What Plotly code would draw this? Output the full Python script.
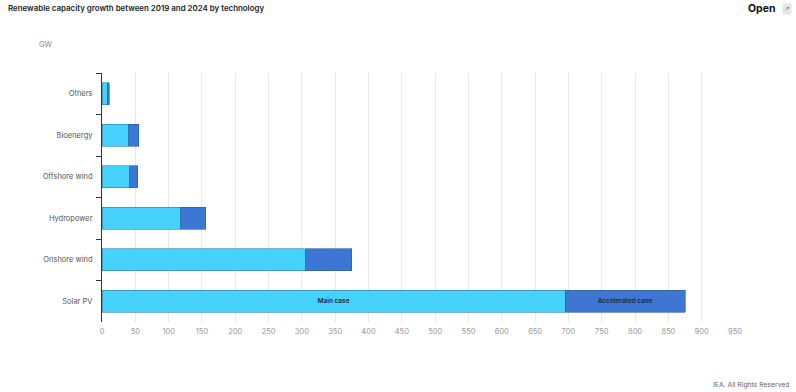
import plotly.graph_objects as go

technologies = ["Others", "Bioenergy", "Offshore wind", "Hydropower", "Onshore wind", "Solar PV"]
main_case = [8, 40.5, 42, 118.5, 306, 695]
accelerated_extra = [3, 15, 11.5, 37.5, 69, 180]
main_labels = ["", "", "", "", "", "Main case"]
accel_labels = ["", "", "", "", "", "Accelerated case"]
x_ticks = list(range(0, 951, 50))

FONT = "Inter, Lato, sans-serif"
W, H = 796, 392
ML, MR, MT, MB = 102, 61, 73, 70
PW, PH = W - ML - MR, H - MT - MB


def px(x):
    return (x - ML) / PW


def py(y_from_top):
    return (H - y_from_top - MB) / PH


fig = go.Figure()
fig.add_trace(go.Bar(
    y=technologies, x=main_case, orientation="h", name="Main case",
    marker=dict(color="#46d2fc", line=dict(color="#2b7fa6", width=0.6)),
    text=main_labels, textposition="inside", insidetextanchor="middle",
    textfont=dict(family=FONT, size=6.5, color="#1b2a3a", weight=600),
    hoverinfo="x+y",
))
fig.add_trace(go.Bar(
    y=technologies, x=accelerated_extra, orientation="h", name="Accelerated case",
    marker=dict(color="#3e76d4", line=dict(color="#2b5a9e", width=0.6)),
    text=accel_labels, textposition="inside", insidetextanchor="middle",
    textfont=dict(family=FONT, size=6.5, color="#1b2a3a", weight=600),
    hoverinfo="x+y",
))

ann = lambda **k: dict(xref="paper", yref="paper", showarrow=False, **k)

fig.update_layout(
    width=W, height=H,
    margin=dict(l=ML, r=MR, t=MT, b=MB, autoexpand=False),
    barmode="stack", bargap=0.48,
    showlegend=False,
    plot_bgcolor="white", paper_bgcolor="white",
    font=dict(family=FONT, size=7.5, color="#555"),
    uniformtext=dict(minsize=6, mode="show"),
    xaxis=dict(
        range=[0, 950], tickvals=x_ticks, showgrid=True, gridcolor="#e9e9e9", gridwidth=1,
        zeroline=False, showline=False, ticks="", automargin=False,
        ticklabelstandoff=3,
        tickfont=dict(family=FONT, size=7.5, color="#9a9a9a"),
    ),
    yaxis=dict(
        categoryorder="array", categoryarray=technologies, autorange="reversed",
        showline=True, linecolor="#333", linewidth=1, automargin=False,
        ticks="outside", tickson="boundaries", ticklen=5, tickcolor="#333",
        ticklabelstandoff=7,
        showgrid=False, tickfont=dict(family=FONT, size=7.5, color="#555"),
    ),
    annotations=[
        ann(text="Renewable capacity growth between 2019 and 2024 by technology",
            x=px(6), y=py(8), xanchor="left", yanchor="middle",
            font=dict(family=FONT, size=7.9, color="#222", weight=600)),
        ann(text="GW", x=px(46), y=py(44), xanchor="center", yanchor="middle",
            font=dict(family=FONT, size=7.5, color="#888")),
        ann(text="Open", x=px(778), y=py(9), xanchor="right", yanchor="middle",
            font=dict(family=FONT, size=10.5, color="#111", weight=700)),
        ann(text="↗", x=px(787), y=py(9), xanchor="center", yanchor="middle",
            bgcolor="#e6e6e6", font=dict(family="DejaVu Sans", size=7, color="#777")),
        ann(text="IEA. All Rights Reserved", x=px(792), y=py(384),
            xanchor="right", yanchor="middle",
            font=dict(family=FONT, size=6.8, color="#666")),
    ],
)

fig.write_html("out.html", config={"displayModeBar": False},
               post_script="document.body.style.margin='0px';")
